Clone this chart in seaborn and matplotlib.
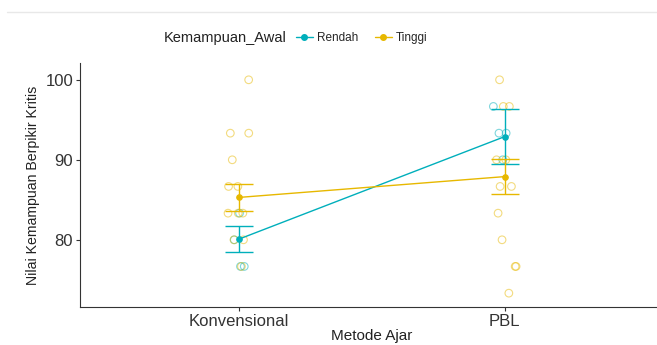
import numpy as np
import pandas as pd
import matplotlib
matplotlib.use("Agg")
import matplotlib.pyplot as plt
from matplotlib.lines import Line2D
import seaborn as sns

# ---- data ----
methods = ["Konvensional", "PBL"]
groups = ["Rendah", "Tinggi"]
colors = ["#00AFBB", "#E7B800"]

mean_rendah = [80.1, 92.9]
se_rendah = [1.6, 3.4]
mean_tinggi = [85.3, 87.9]
se_tinggi = [1.7, 2.2]

konv_rendah = [76.67, 76.67, 80, 83.33]
konv_tinggi = [100, 93.33, 93.33, 90, 86.67, 86.67, 83.33, 83.33, 83.33, 80, 80, 76.67]
pbl_rendah = [96.67, 93.33, 93.33, 90]
pbl_tinggi = [100, 96.67, 96.67, 90, 90, 86.67, 86.67, 83.33, 80, 76.67, 76.67, 73.33]

y_ticks = [80, 90, 100]

# ---- tables ----
raw_rows = []
for m, g, vals in [("Konvensional", "Rendah", konv_rendah), ("Konvensional", "Tinggi", konv_tinggi),
                   ("PBL", "Rendah", pbl_rendah), ("PBL", "Tinggi", pbl_tinggi)]:
    for v in vals:
        raw_rows.append({"Metode": m, "Kelompok": g, "Nilai": v})
raw_df = pd.DataFrame(raw_rows)

mean_df = pd.DataFrame({
    "Metode": methods * 2,
    "Kelompok": [groups[0]] * 2 + [groups[1]] * 2,
    "Nilai": mean_rendah + mean_tinggi,
})
palette = dict(zip(groups, colors))

sns.set_style("ticks")
plt.rcParams["font.family"] = ["Liberation Sans", "DejaVu Sans"]

fig = plt.figure(figsize=(6.57, 3.45), dpi=100)
ax = fig.add_axes([80 / 657, 38 / 345, 584 / 657, 244 / 345])

np.random.seed(3)
sns.stripplot(data=raw_df, x="Metode", y="Nilai", hue="Kelompok", order=methods,
              hue_order=groups, palette=palette, jitter=0.045, size=5.5,
              linewidth=0.8, alpha=0.5, legend=False, ax=ax, zorder=1)
for coll in ax.collections:
    fc = coll.get_facecolors()
    coll.set_edgecolors(fc)
    coll.set_facecolors("none")

for means, ses, c in [(mean_rendah, se_rendah, colors[0]), (mean_tinggi, se_tinggi, colors[1])]:
    ax.errorbar(x=[0, 1], y=means, yerr=ses, fmt="none", ecolor=c, elinewidth=1.0,
                capsize=10, capthick=1.0, zorder=3)

sns.pointplot(data=mean_df, x="Metode", y="Nilai", hue="Kelompok", order=methods,
              hue_order=groups, palette=palette, errorbar=None, markers="o",
              markersize=4, linewidth=1.0, legend=False, ax=ax, zorder=4)

ax.set_xlim(-0.6, 1.6)
ax.set_ylim(71.6, 102.1)
ax.set_yticks(y_ticks)
ax.set_yticklabels([str(t) for t in y_ticks])
ax.set_xlabel("Metode Ajar", fontsize=11, color="#222222", labelpad=0)
ax.set_ylabel("Nilai Kemampuan Berpikir Kritis", fontsize=10.2, color="#222222", labelpad=4)
ax.tick_params(axis="both", labelsize=12, colors="#333333", length=3, width=0.8, pad=2)
for s in ["top", "right"]:
    ax.spines[s].set_visible(False)
for s in ["left", "bottom"]:
    ax.spines[s].set_color("#333333")
    ax.spines[s].set_linewidth(0.8)

# legend at top
handles = [Line2D([0], [0], color=c, marker="o", markersize=4, lw=1.0) for c in colors]
fig.legend(handles, groups, loc="center left", bbox_to_anchor=(296 / 657, 1 - 38 / 345),
           ncol=2, frameon=False, fontsize=8.5, handlelength=1.4, handletextpad=0.4,
           columnspacing=1.4, borderpad=0, borderaxespad=0)
fig.text(287 / 657, 1 - 38 / 345, "Kemampuan_Awal", ha="right", va="center",
         fontsize=10.5, color="#222222")

fig.add_artist(Line2D([7 / 657, 1.0], [1 - 12 / 345, 1 - 12 / 345], color="#e8e8e8", lw=1))

fig.savefig("out.png", dpi=100)
